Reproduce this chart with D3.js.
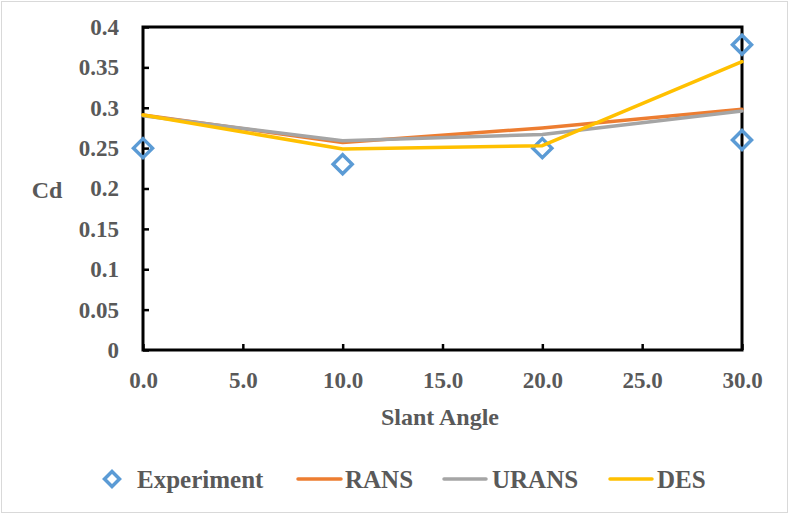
<!DOCTYPE html>
<html>
<head>
<meta charset="utf-8">
<script src="https://cdn.jsdelivr.net/npm/d3@7"></script>
<style>
  html, body { margin: 0; padding: 0; background: #ffffff; }
  svg { display: block; }
  text { font-family: "Liberation Serif", "Times New Roman", serif; font-weight: bold; fill: #595959; }
</style>
</head>
<body>
<svg id="chart" width="789" height="514"></svg>
<script>
// ---- data ----
const angles = [0, 10, 20, 30];
const experimentX = [0, 10, 20, 30, 30];
const experimentY = [0.25, 0.23, 0.25, 0.378, 0.26];
const ransY = [0.291, 0.257, 0.275, 0.298];
const uransY = [0.290, 0.259, 0.267, 0.296];
const desY = [0.291, 0.249, 0.253, 0.357];
const seriesNames = ["Experiment", "RANS", "URANS", "DES"];
const xTickValues = [0, 5, 10, 15, 20, 25, 30];
const xTickLabels = ["0.0", "5.0", "10.0", "15.0", "20.0", "25.0", "30.0"];
const yTickValues = [0, 0.05, 0.1, 0.15, 0.2, 0.25, 0.3, 0.35, 0.4];
const yTickLabels = ["0", "0.05", "0.1", "0.15", "0.2", "0.25", "0.3", "0.35", "0.4"];

const colors = { Experiment: "#5B9BD5", RANS: "#ED7D31", URANS: "#A5A5A5", DES: "#FFC000" };

(function () {
const svg = d3.select("#chart");
const W = 789, H = 514;

// outer chart border
svg.append("rect").attr("x", 1.5).attr("y", 1.5).attr("width", W - 3).attr("height", H - 3)
  .attr("fill", "#ffffff").attr("stroke", "#D9D9D9").attr("stroke-width", 1);

const pLeft = 143, pRight = 742, pTop = 27, pBottom = 350;
const x = d3.scaleLinear().domain([0, 30]).range([pLeft, pRight]);
const y = d3.scaleLinear().domain([0, 0.4]).range([pBottom, pTop]);

// axes
const yAxis = d3.axisLeft(y).tickValues(yTickValues)
  .tickFormat((d, i) => yTickLabels[i]).tickSizeInner(-6).tickSizeOuter(0).tickPadding(24);
const gy = svg.append("g").attr("transform", `translate(${pLeft},0)`).call(yAxis);
gy.select(".domain").remove();
gy.selectAll(".tick line").attr("stroke", "#000").attr("stroke-width", 2.5);
gy.selectAll(".tick text").attr("font-size", 23).attr("fill", "#595959")
  .attr("font-family", "'Liberation Serif', 'Times New Roman', serif").attr("font-weight", "bold");

const xAxis = d3.axisBottom(x).tickValues(xTickValues)
  .tickFormat((d, i) => xTickLabels[i]).tickSizeInner(-6).tickSizeOuter(0).tickPadding(22);
const gx = svg.append("g").attr("transform", `translate(0,${pBottom})`).call(xAxis);
gx.select(".domain").remove();
gx.selectAll(".tick line").attr("stroke", "#000").attr("stroke-width", 2.5);
gx.selectAll(".tick text").attr("font-size", 23).attr("fill", "#595959")
  .attr("font-family", "'Liberation Serif', 'Times New Roman', serif").attr("font-weight", "bold");

// plot area border
svg.append("rect").attr("x", pLeft).attr("y", pTop).attr("width", pRight - pLeft).attr("height", pBottom - pTop)
  .attr("fill", "none").attr("stroke", "#000").attr("stroke-width", 3);

function diamond(cx, cy, r) {
  return `M${cx},${cy - r}L${cx + r},${cy}L${cx},${cy + r}L${cx - r},${cy}Z`;
}

// experiment markers
svg.append("g").selectAll("path").data(experimentX.map((d, i) => [d, experimentY[i]]))
  .join("path")
  .attr("d", d => diamond(x(d[0]), y(d[1]), 9.5))
  .attr("fill", "none").attr("stroke", colors.Experiment).attr("stroke-width", 3.5)
  .attr("stroke-linejoin", "miter");

// lines
const line = d3.line().x(d => x(d[0])).y(d => y(d[1]));
[["RANS", ransY], ["URANS", uransY], ["DES", desY]].forEach(([name, vals]) => {
  svg.append("path").datum(angles.map((a, i) => [a, vals[i]]))
    .attr("d", line).attr("fill", "none").attr("stroke", colors[name])
    .attr("stroke-width", 3.5).attr("stroke-linejoin", "round").attr("stroke-linecap", "round");
});

// axis titles
svg.append("text").attr("x", 47).attr("y", 198).attr("text-anchor", "middle")
  .attr("font-size", 24).text("Cd");
svg.append("text").attr("x", 440).attr("y", 425).attr("text-anchor", "middle")
  .attr("font-size", 24).text("Slant Angle");

// legend
const ly = 479, lbase = 488;
const legend = svg.append("g");
legend.append("path").attr("d", diamond(112, ly, 7.5)).attr("fill", "none")
  .attr("stroke", colors.Experiment).attr("stroke-width", 3.5);
legend.append("text").attr("x", 137).attr("y", lbase).attr("font-size", 25).text(seriesNames[0]);
const legendLines = [
  { name: seriesNames[1], x1: 298, x2: 341, tx: 345 },
  { name: seriesNames[2], x1: 444, x2: 486, tx: 492 },
  { name: seriesNames[3], x1: 610, x2: 652, tx: 657 }
];
legendLines.forEach(l => {
  legend.append("line").attr("x1", l.x1).attr("x2", l.x2).attr("y1", ly).attr("y2", ly)
    .attr("stroke", colors[l.name]).attr("stroke-width", 3.5).attr("stroke-linecap", "round");
  legend.append("text").attr("x", l.tx).attr("y", lbase).attr("font-size", 25).text(l.name);
});
})();
</script>
</body>
</html>
